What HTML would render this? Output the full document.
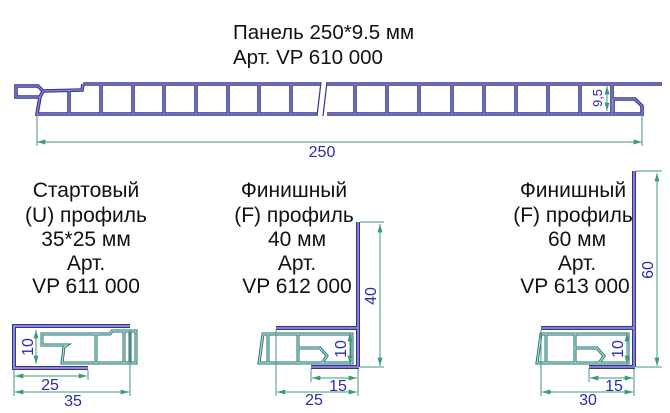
<!DOCTYPE html>
<html><head><meta charset="utf-8"><style>
html,body{margin:0;padding:0;background:#fff;width:670px;height:413px;overflow:hidden}
svg text{font-family:"Liberation Sans","DejaVu Sans",sans-serif}
</style></head><body>
<svg width="670" height="413" viewBox="0 0 670 413" xmlns="http://www.w3.org/2000/svg">
<defs>
<marker id="a" viewBox="0 0 10 6" refX="10" refY="3" markerWidth="9" markerHeight="5" orient="auto-start-reverse"><path d="M0,0 L10,3 L0,6 z" fill="#3f9a78"/></marker>
<g id="pan">
<path d="M83,84 L662,84"/>
<path d="M83,84 L82,90 L43,91 L40,97 L16,97 L16,86 L38,86 L42,90"/>
<path d="M40,97 L37,114 L323,114"/>
<path d="M327,114 L642,114 L642,106 L635,99 L613,99"/>
<path d="M613,99 L613,112"/>
<path d="M69,90 L69,114"/>
<path d="M101,84V114M133,84V114M164,84V114M196,84V114M228,84V114M259,84V114M291,84V114M355,84V114M387,84V114M419,84V114M452,84V114M484,84V114M516,84V114M548,84V114M580,84V114M612,84V114"/>
</g>
<g id="up">
<path d="M42,334H110L112,331H136V363H62L64,347L67,345H42Z"/>
<path d="M96,334V363M124,331V363M130,331V363"/>
</g>
<g id="fp">
<path d="M263,334H352V363H259Z"/><path d="M268,334V363M298,334V363M298,348H320L327,356L322,363"/>
</g>
<g id="fp2">
<path d="M541,334H628V363H537Z"/><path d="M546,334V363M575,334V363M575,348H597L604,356L599,363"/>
</g>
</defs>
<g fill="#111" font-size="20.5">
<text x="233" y="39">Панель 250*9.5 мм</text>
<text x="233" y="64">Арт. VP 610 000</text>
</g>
<g fill="#111" font-size="21" text-anchor="middle">
<text x="86" y="197">Стартовый</text><text x="86" y="222">(U) профиль</text><text x="86" y="246">35*25 мм</text><text x="86" y="270">Арт.</text><text x="86" y="293">VP 611 000</text>
<text x="294" y="197">Финишный</text><text x="294" y="222">(F) профиль</text><text x="297" y="246">40 мм</text><text x="297" y="270">Арт.</text><text x="297" y="293">VP 612 000</text>
<text x="573" y="197">Финишный</text><text x="573" y="222">(F) профиль</text><text x="577" y="246">60 мм</text><text x="577" y="270">Арт.</text><text x="575" y="293">VP 613 000</text>
</g>
<use href="#pan" fill="none" stroke="#35358a" stroke-width="3.6"/>
<use href="#pan" fill="none" stroke="#8a8ad8" stroke-width="1.3"/>
<path d="M321,78 L316,119 L323,119 L328,78 z" fill="#fff"/>
<path d="M321,82 L317,116 M327,82 L323,116" stroke="#35358a" stroke-width="1.2"/>
<g stroke="#3f9a78" stroke-width="1" fill="none">
<path d="M37,116V146M642,116V146"/>
<path d="M37,142H642" marker-start="url(#a)" marker-end="url(#a)"/>
<path d="M607,86V111" marker-start="url(#a)" marker-end="url(#a)"/>
</g>
<text x="322" y="157" fill="#2b2ba8" font-size="16" text-anchor="middle">250</text>
<text transform="translate(602,98) rotate(-90)" fill="#2b2ba8" font-size="13" text-anchor="middle">9,5</text>

<path d="M130,326 L14,326 L14,368 L88,368" fill="none" stroke="#35358a" stroke-width="4"/>
<path d="M130,326 L14,326 L14,368 L88,368" fill="none" stroke="#8a8ad8" stroke-width="2"/>
<use href="#up" fill="none" stroke="#2a6a6a" stroke-width="3"/>
<use href="#up" fill="none" stroke="#a8e4e0" stroke-width="1.2"/>
<g stroke="#3f9a78" stroke-width="1" fill="none">
<path d="M36,330V364" marker-start="url(#a)" marker-end="url(#a)"/>
<path d="M14,370V396M88,370V380M130,330V396"/>
<path d="M15,376H87" marker-start="url(#a)" marker-end="url(#a)"/>
<path d="M15,392H129" marker-start="url(#a)" marker-end="url(#a)"/>
</g>
<g fill="#2b2ba8" font-size="16" text-anchor="middle">
<text transform="translate(33,347) rotate(-90)">10</text>
<text x="50" y="390">25</text><text x="73" y="406">35</text>
</g>

<use href="#fp" fill="none" stroke="#2a6a6a" stroke-width="3"/>
<use href="#fp" fill="none" stroke="#a8e4e0" stroke-width="1.2"/>
<path d="M276,328 H358 M358,222 V367 M311,367 H359" fill="none" stroke="#35358a" stroke-width="4"/>
<path d="M276,328 H358 M358,222 V367 M311,367 H359" fill="none" stroke="#8a8ad8" stroke-width="1.8"/>
<g stroke="#3f9a78" stroke-width="1" fill="none">
<path d="M360,222H384M360,367H384"/>
<path d="M380,224V366" marker-start="url(#a)" marker-end="url(#a)"/>
<path d="M350,333V364" marker-start="url(#a)" marker-end="url(#a)"/>
<path d="M276,330V396M311,369V382M358,369V396"/>
<path d="M312,378H357" marker-start="url(#a)" marker-end="url(#a)"/>
<path d="M277,392H357" marker-start="url(#a)" marker-end="url(#a)"/>
</g>
<g fill="#2b2ba8" font-size="16" text-anchor="middle">
<text transform="translate(376,296) rotate(-90)">40</text>
<text transform="translate(346,349) rotate(-90)">10</text>
<text x="338" y="391">15</text><text x="314" y="405">25</text>
</g>

<use href="#fp2" fill="none" stroke="#2a6a6a" stroke-width="3"/>
<use href="#fp2" fill="none" stroke="#a8e4e0" stroke-width="1.2"/>
<path d="M541,328 H634 M634,171 V367 M589,367 H635" fill="none" stroke="#35358a" stroke-width="4"/>
<path d="M541,328 H634 M634,171 V367 M589,367 H635" fill="none" stroke="#8a8ad8" stroke-width="1.8"/>
<g stroke="#3f9a78" stroke-width="1" fill="none">
<path d="M636,171H662M636,367H662"/>
<path d="M657,173V366" marker-start="url(#a)" marker-end="url(#a)"/>
<path d="M627,333V364" marker-start="url(#a)" marker-end="url(#a)"/>
<path d="M541,330V396M589,369V382M634,369V396"/>
<path d="M590,378H633" marker-start="url(#a)" marker-end="url(#a)"/>
<path d="M542,392H633" marker-start="url(#a)" marker-end="url(#a)"/>
</g>
<g fill="#2b2ba8" font-size="16" text-anchor="middle">
<text transform="translate(653,270) rotate(-90)">60</text>
<text transform="translate(623,349) rotate(-90)">10</text>
<text x="614" y="391">15</text><text x="588" y="405">30</text>
</g>
</svg>
</body></html>
